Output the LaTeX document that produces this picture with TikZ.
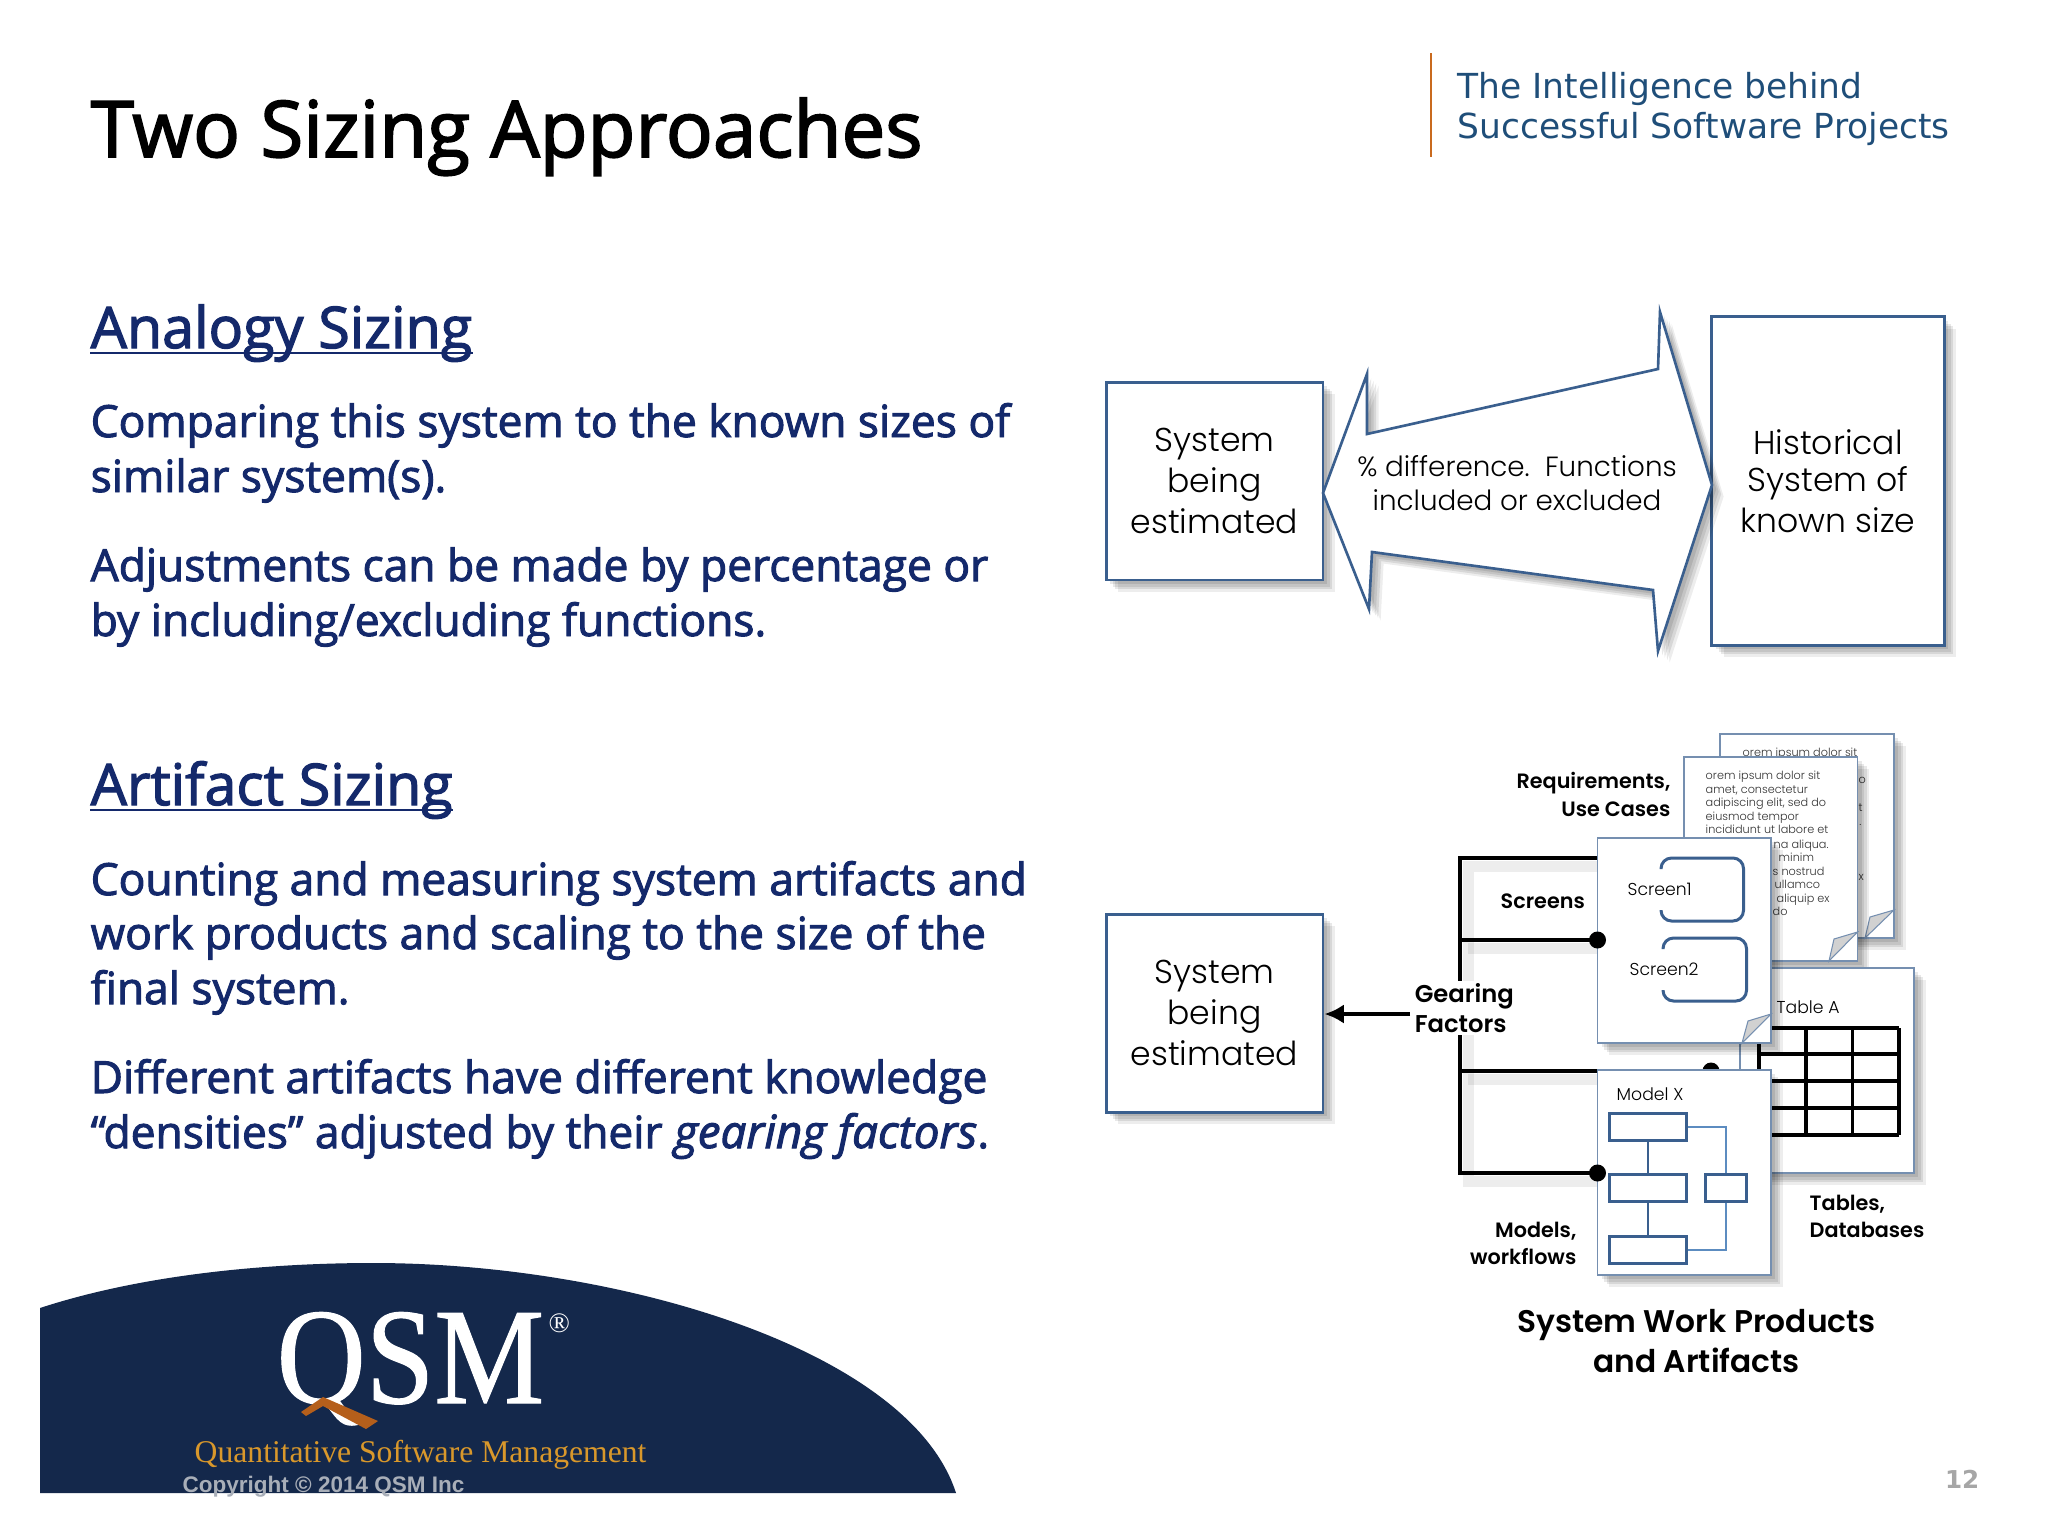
\documentclass[tikz,border=0pt]{standalone}
\usepackage{fontspec}
\usetikzlibrary{arrows.meta}
\setmainfont{Open Sans}[FakeBold=2.2]
\newfontfamily\gothic{Poppins Light}
\newfontfamily\gothicbold{Poppins SemiBold}
\newfontfamily\tagfont{DejaVu Sans}
\newfontfamily\logofont{Liberation Serif}[FakeBold=0.8]
\newfontfamily\plainserif{Liberation Serif}
\newfontfamily\copyfont{Liberation Sans}
\newcommand\fs[1]{\fontsize{#1}{#1}\selectfont}
\definecolor{mynavy}{HTML}{14296B}
\definecolor{mylogoblue}{HTML}{14284B}
\definecolor{myframe}{HTML}{3A5F8E}
\definecolor{mylink}{HTML}{5C8CC0}
\definecolor{mytag}{HTML}{1F4E79}
\definecolor{myorange}{HTML}{C96A1E}
\definecolor{mygold}{HTML}{D9982B}
\definecolor{mygrey}{HTML}{A8AEB8}
\tikzstyle{softshadow}=[
  preaction={draw=none,fill=black,fill opacity=0.09,transform canvas={shift={(1.2pt,-1.2pt)}}},
  preaction={draw=none,fill=black,fill opacity=0.09,transform canvas={shift={(1.9pt,-1.9pt)}}},
  preaction={draw=none,fill=black,fill opacity=0.09,transform canvas={shift={(2.6pt,-2.6pt)}}},
  preaction={draw=none,fill=black,fill opacity=0.07,transform canvas={shift={(3.3pt,-3.3pt)}}}]
\tikzstyle{sidebox}=[draw=myframe,line width=0.85pt,fill=white,softshadow]
\tikzstyle{page}=[draw=myframe!70,line width=0.4pt,fill=white,softshadow]
\tikzstyle{fold}=[draw=myframe!70,line width=0.3pt,fill=black!18]
\tikzstyle{wire}=[black,line width=0.95pt]
\tikzstyle{wireshadow}=[black,opacity=0.07,line width=3pt,transform canvas={shift={(2.4pt,-2.4pt)}}]
\tikzstyle{cell}=[black,line width=0.9pt]
\tikzstyle{modelbox}=[draw=myframe,line width=0.8pt,fill=white,inner sep=0,minimum height=7.8pt]
\tikzstyle{heading}=[anchor=base west,inner sep=0,mynavy,font=\fs{16.3}]
\tikzstyle{body}=[anchor=base west,inner sep=0,mynavy,font=\fs{12.6}]
\tikzstyle{boxtext}=[sidebox,inner sep=0,align=center,font=\gothic\fs{9.4}]
\tikzstyle{small}=[anchor=base west,inner sep=0,font=\gothic\fs{4.9}]
\tikzstyle{lorem}=[anchor=base west,inner sep=0,font=\gothic\fs{3.2},black!80]
\tikzstyle{tag}=[anchor=base,inner sep=0,align=right,font=\gothicbold\fs{5.9}]

\begin{document}
\begin{tikzpicture}[x=0.01cm,y=-0.01cm]
  \useasboundingbox (0,0) rectangle (2048,1536);
  \fill[white] (0,0) rectangle (2048,1536);

  % HEADER
  \node[anchor=base west,inner sep=0,font=\fs{22.2}] (title) at (90,157) {Two Sizing Approaches};
  \draw[myorange,line width=0.5pt] (1431,53) -- (1431,157);
  \node[anchor=base west,inner sep=0,mytag,font=\tagfont\fs{9.8}] (tag1) at (1457,98) {The Intelligence behind};
  \node[anchor=base west,inner sep=0,mytag,font=\tagfont\fs{9.8}] (tag2) at (1457,138) {Successful Software Projects};

  % LEFT TEXT
  \node[heading] (analogy) at (90,348) {Analogy Sizing};
  \draw[mynavy,line width=0.7pt] ([yshift=-1.4pt]analogy.base west) -- ([yshift=-1.4pt]analogy.base east);
  \node[body] (a1) at (90,437) {Comparing this system to the known sizes of};
  \node[body] (a2) at (90,492) {similar system(s).};
  \node[body] (a3) at (90,581) {Adjustments can be made by percentage or};
  \node[body] (a4) at (90,636) {by including/excluding functions.};
  \node[heading] (artifact) at (90,805) {Artifact Sizing};
  \draw[mynavy,line width=0.7pt] ([yshift=-1.4pt]artifact.base west) -- ([yshift=-1.4pt]artifact.base east);
  \node[body] (b1) at (90,895) {Counting and measuring system artifacts and};
  \node[body] (b2) at (90,949) {work products and scaling to the size of the};
  \node[body] (b3) at (90,1004) {final system.};
  \node[body] (b4) at (90,1093) {Different artifacts have different knowledge};
  \node[body] (b5) at (90,1148) {“densities” adjusted by their \textit{\fs{13}gearing factors}.};

  % ANALOGY
  \node[boxtext,minimum width=61.7pt,minimum height=56.3pt] (est1) at (1214.5,481) {System\\[1.2pt]being\\[1.2pt]estimated};
  \node[boxtext,minimum width=66pt,minimum height=93.3pt] (hist) at (1828,481) {Historical\\[1.2pt]System of\\[1.2pt]known size};
  \draw[sidebox,line width=0.75pt,line join=miter] (1323,493) -- (1367,374) -- (1367,434) -- (1658,369) -- (1660,312)
    -- (1712,485) -- (1658,651) -- (1653,590) -- (1372,552) -- (1369,609) -- cycle;
  \node[inner sep=0,align=center,font=\gothic\fs{7.9}] (diff) at (1517,483) {\% difference.\ \ Functions\\[1.7pt]included or excluded};

  % ARTIFACT PAGES
  \draw[page] (1720,734) rectangle (1894,938);
  \draw[fold] (1894,910) -- (1865,938) -- (1870,917) -- cycle;
  \node[lorem] (back1) at (1742,756) {orem ipsum dolor sit};
  \node[lorem] (back2) at (1858,783) {o};
  \node[lorem] (back3) at (1858,811) {t};
  \node[lorem] (back4) at (1858,825) {.};
  \node[lorem] (back5) at (1858,880) {x};

  \draw[page] (1684,757) rectangle (1857.5,961);
  \draw[fold] (1857.5,932) -- (1829,961) -- (1834,939) -- cycle;
  \node[lorem] (l1) at (1705,779) {orem ipsum dolor sit};
  \node[lorem] (l2) at (1705,793) {amet, consectetur};
  \node[lorem] (l3) at (1705,806) {adipiscing elit, sed do};
  \node[lorem] (l4) at (1705,820) {eiusmod tempor};
  \node[lorem] (l5) at (1705,833) {incididunt ut labore et};
  \node[lorem] (r1) at (1773,848) {na aliqua.};
  \node[lorem] (r2) at (1778,861) {minim};
  \node[lorem] (r3) at (1772,875) {s nostrud};
  \node[lorem] (r4) at (1774,888) {ullamco};
  \node[lorem] (r5) at (1776,902) {aliquip ex};
  \node[lorem] (r6) at (1772,915) {do};

  % TABLE PAGE
  \draw[page] (1740,968) rectangle (1914,1173);
  \node[small] (tablea) at (1776,1013) {Table A};
  \foreach \yy in {1028,1054,1081,1108,1135}
    \draw[cell] (1759,\yy) -- (1899,\yy);
  \foreach \xx in {1759,1806,1852.5,1899}
    \draw[cell] (\xx,1028) -- (\xx,1135);

  % GEARING WIRES
  \coordinate (wtop) at (1460,858);
  \coordinate (wbot) at (1460,1173);
  \coordinate (w2) at (1460,940);
  \coordinate (w3) at (1460,1071);
  \coordinate (d2) at (1597.5,940);
  \coordinate (d3) at (1711,1071);
  \coordinate (d4) at (1597.5,1173);
  \coordinate (p1) at (1600,858);
  \draw[wireshadow] (p1) -- (wtop) -- (wbot) -- (d4);
  \draw[wireshadow] (w2) -- (d2);
  \draw[wireshadow] (w3) -- (d3);
  \draw[wire] (p1) -- (wtop) -- (wbot) -- (d4);
  \draw[wire] (w2) -- (d2);
  \draw[wire] (w3) -- (d3);
  \fill (d3) circle (8.5);

  % SCREENS AND MODEL
  \draw[page] (1597.5,838) rectangle (1771,1043);
  \draw[fold] (1771,1014) -- (1742,1043) -- (1748,1021) -- cycle;
  \draw[page] (1597.5,1070) rectangle (1771,1275);
  \fill (d2) circle (8.5);
  \fill (d4) circle (8.5);
  \draw[myframe,line width=0.85pt,rounded corners=3pt] (1661,869) -- (1661,858) -- (1743.5,858) -- (1743.5,921) -- (1661,921) -- (1661,910);
  \draw[myframe,line width=0.85pt,rounded corners=3pt] (1663,949) -- (1663,938) -- (1746.5,938) -- (1746.5,1001) -- (1663,1001) -- (1663,990);
  \node[small] (screen1) at (1627,895) {Screen1};
  \node[small] (screen2) at (1629,975) {Screen2};
  \node[small] (modelx) at (1616,1100) {Model X};

  \node[modelbox,minimum width=21.9pt,anchor=north west] (m1) at (1608,1112) {};
  \node[modelbox,minimum width=21.9pt,anchor=north west] (m2) at (1608,1173) {};
  \node[modelbox,minimum width=21.9pt,anchor=north west] (m3) at (1608,1235) {};
  \node[modelbox,minimum width=11.7pt,anchor=north west] (m4) at (1704,1173) {};
  \draw[myframe,line width=0.7pt] (m1) -- (m2);
  \draw[myframe,line width=0.7pt] (m2) -- (m3);
  \draw[mylink,line width=0.6pt] (m1.east) -| (m4.north);
  \draw[mylink,line width=0.6pt] (m3.east) -| (m4.south);

  % LABELS
  \node[tag,anchor=base east] (req1) at (1671,788) {Requirements,};
  \node[tag,anchor=base east] (req2) at (1671,816) {Use Cases};
  \node[tag,anchor=base west] (scr) at (1500,908) {Screens};
  \node[tag,anchor=base east] (mod1) at (1577,1237) {Models,};
  \node[tag,anchor=base east] (mod2) at (1577,1264) {workflows};
  \node[tag,anchor=base west] (tab1) at (1809,1210) {Tables,};
  \node[tag,anchor=base west] (tab2) at (1809,1237) {Databases};
  \node[tag,anchor=base,font=\gothicbold\fs{8.9}] (sys1) at (1696.5,1332) {System Work Products};
  \node[tag,anchor=base,font=\gothicbold\fs{8.9}] (sys2) at (1696.5,1372) {and Artifacts};

  \node[fill=white,inner sep=0.6pt,align=left,anchor=west,font=\gothicbold\fs{6.9}] (gear) at (1412,1008) {Gearing\\[1.8pt]Factors};
  \node[boxtext,minimum width=61.7pt,minimum height=56.3pt] (est2) at (1214.5,1013) {System\\[1.2pt]being\\[1.2pt]estimated};
  \coordinate (gearin) at (1410,1014);
  \draw[-{Latex[length=5.5pt,width=5.5pt]},black,line width=1.1pt] (gearin) -- (gearin -| est2.east);

  % LOGO
  \fill[mylogoblue] (40,1493) -- (40,1308) .. controls (150,1272) and (280,1263) .. (373,1263)
    .. controls (620,1263) and (910,1350) .. (956,1493) -- cycle;
  \node[anchor=base west,inner sep=0,white,xscale=0.9,font=\logofont\fs{39}] (qsm) at (276,1403) {QSM};
  \node[anchor=base west,inner sep=0,white,font=\plainserif\fs{8}] (reg) at (548,1332) {®};
  \fill[myorange!90!black] (301,1412) -- (323,1397) -- (378,1421) -- (366,1429) -- (323,1406) -- (306,1416) -- cycle;
  \node[anchor=base west,inner sep=0,font=\plainserif\fs{9},mygold] (qsw) at (194,1462) {Quantitative Software Management};
  \node[anchor=base west,inner sep=0,font=\copyfont\bfseries\fs{6.4},mygrey] (copy) at (182,1492) {Copyright © 2014 QSM Inc};
  \node[anchor=base east,inner sep=0,font=\tagfont\bfseries\fs{7},black!35] (num) at (1980,1488) {12};
\end{tikzpicture}
\end{document}
